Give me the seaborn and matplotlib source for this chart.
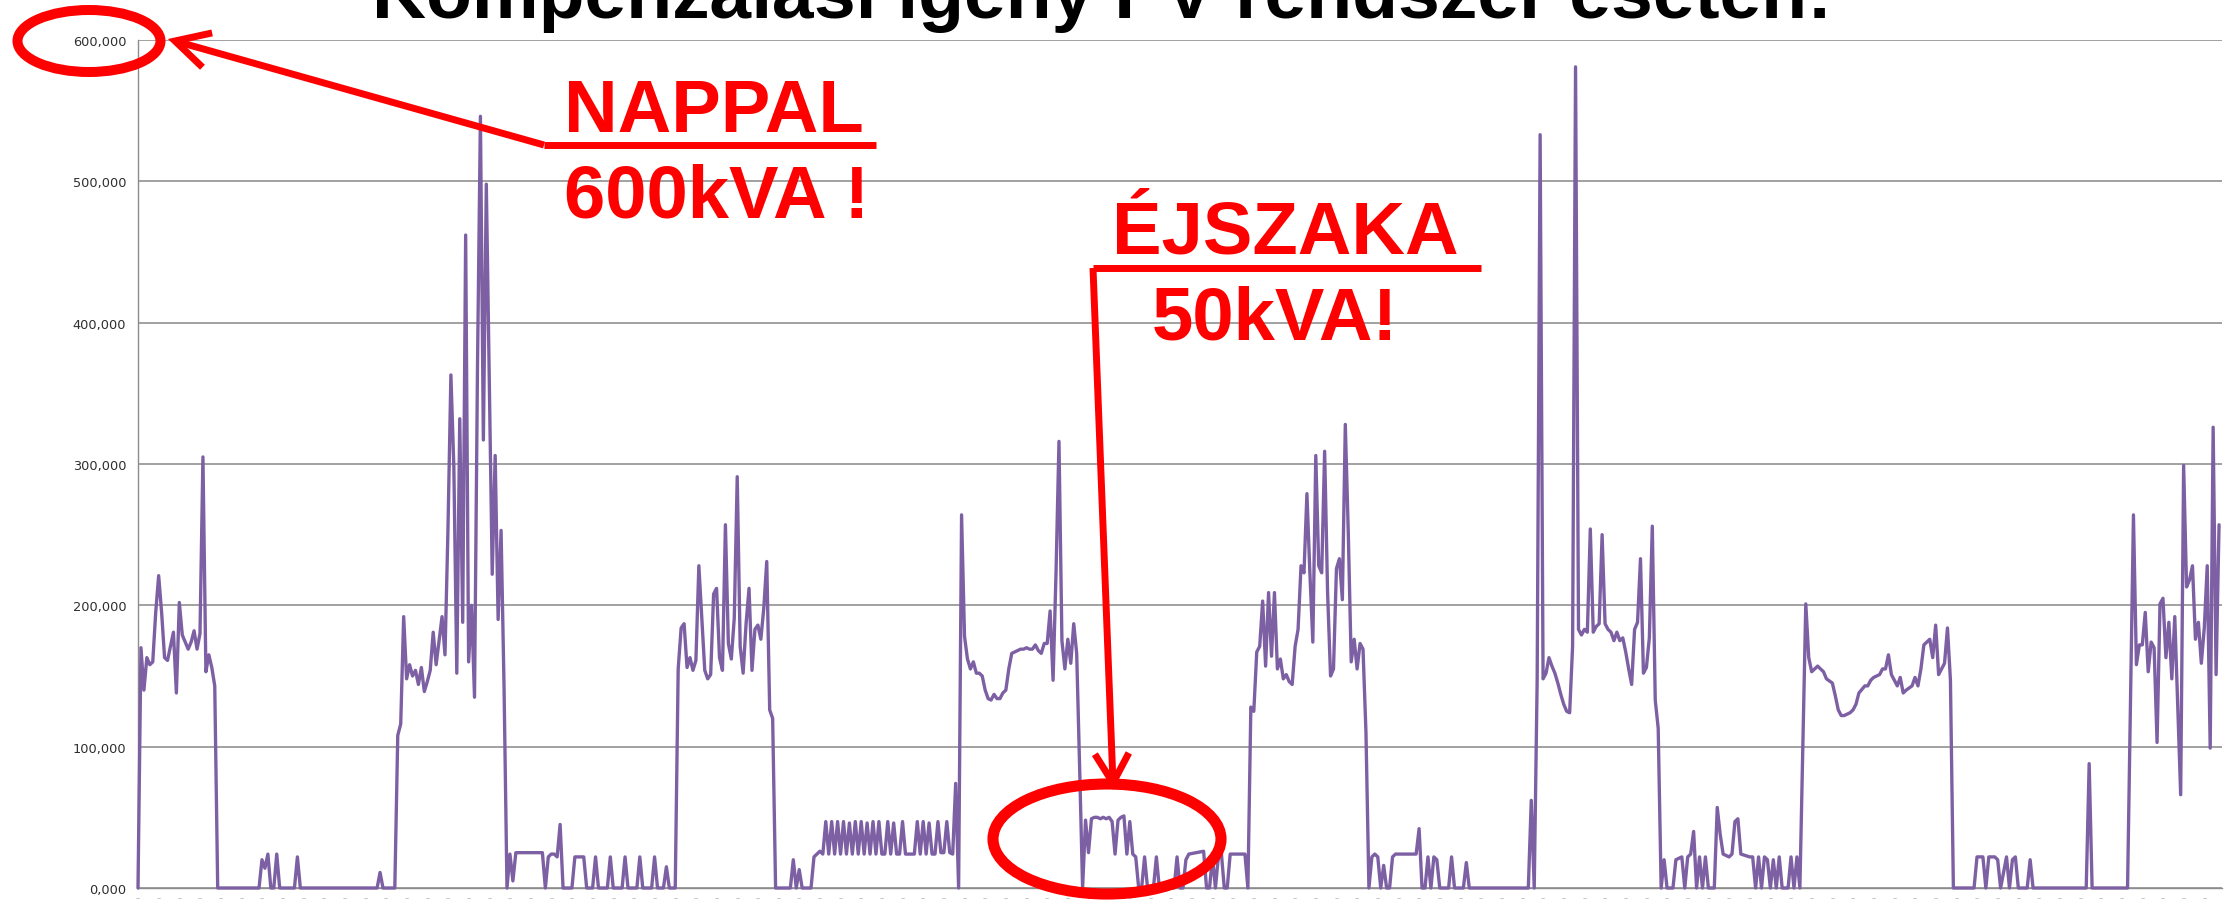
import numpy as np
import pandas as pd
import matplotlib
matplotlib.use("Agg")
import matplotlib.pyplot as plt
from matplotlib.patches import Ellipse
from matplotlib.ticker import FixedLocator, MultipleLocator, FuncFormatter
import seaborn as sns

# Reactive compensation demand, 15-minute samples: (step, kVA)
day1 = [(0, 0), (1, 170), (2, 140), (3, 163), (4, 158), (5, 160), (6, 195), (7, 221), (8, 195),
        (9, 163), (10, 161), (11, 171), (12, 181), (13, 138), (14, 202), (15, 179), (16, 174),
        (17, 169), (18, 174), (19, 182), (20, 169), (21, 180), (22, 305), (23, 153), (24, 165),
        (25, 156), (26, 143), (27, 0)]
night1 = [(41, 0), (42, 20), (43, 14), (44, 24), (45, 0), (46, 0), (47, 24), (48, 0), (53, 0),
          (54, 22), (55, 0), (81, 0), (82, 11), (83, 0), (87, 0)]
day2 = [(88, 108), (89, 116), (90, 192), (91, 148), (92, 158), (93, 150), (94, 154), (95, 144),
        (96, 156), (97, 139), (98, 146), (99, 154), (100, 181), (101, 158), (102, 175), (103, 192),
        (104, 165), (105, 253), (106, 363), (107, 298), (108, 152), (109, 332), (110, 188),
        (111, 462), (112, 160), (113, 200), (114, 135), (115, 367), (116, 546), (117, 317),
        (118, 498), (119, 360), (120, 222), (121, 306), (122, 190), (123, 253), (124, 143), (125, 0)]
night2 = [(126, 24), (127, 5), (128, 25), (137, 25), (138, 0), (139, 22), (140, 24), (141, 24),
          (142, 22), (143, 45), (144, 0), (147, 0), (148, 22), (151, 22), (152, 0), (154, 0),
          (155, 22), (156, 0), (159, 0), (160, 22), (161, 0), (164, 0), (165, 22), (166, 0),
          (169, 0), (170, 22), (171, 0), (174, 0), (175, 22), (176, 0), (178, 0), (179, 15), (180, 0)]
day3 = [(182, 0), (183, 155), (184, 184), (185, 187), (186, 156), (187, 163), (188, 154), (189, 161),
        (190, 228), (191, 191), (192, 154), (193, 148), (194, 151), (195, 208), (196, 212),
        (197, 163), (198, 154), (199, 257), (200, 173), (201, 162), (202, 191), (203, 291),
        (204, 171), (205, 152), (206, 187), (207, 212), (208, 154), (209, 183), (210, 186),
        (211, 176), (212, 198), (213, 231), (214, 126), (215, 120), (216, 0)]
night3 = [(221, 0), (222, 20), (223, 0), (224, 13), (225, 0), (228, 0), (229, 22), (230, 24), (231, 26),
          (232, 24), (233, 47), (234, 24), (235, 47), (236, 24), (237, 47), (238, 24), (239, 47),
          (240, 24), (241, 46), (242, 24), (243, 47), (244, 24), (245, 47), (246, 24), (247, 46),
          (248, 24), (249, 47), (250, 24), (251, 47), (252, 24), (253, 24), (254, 47), (255, 24),
          (256, 46), (257, 24), (258, 24), (259, 47), (260, 24), (263, 24), (264, 47), (265, 24),
          (266, 47), (267, 24), (268, 46), (269, 24), (270, 24), (271, 47), (272, 25), (273, 25),
          (274, 47), (275, 25), (276, 24), (277, 74), (278, 0)]
day4 = [(279, 264), (280, 178), (281, 162), (282, 155), (283, 160), (284, 152), (285, 152), (286, 150),
        (287, 140), (288, 134), (289, 133), (290, 137), (291, 134), (292, 134), (293, 138),
        (294, 140), (295, 155), (296, 166), (297, 167), (298, 168), (299, 169), (300, 169),
        (301, 170), (302, 169), (303, 169), (304, 172), (305, 168), (306, 166), (307, 173),
        (308, 173), (309, 196), (310, 147), (311, 223), (312, 316), (313, 175), (314, 155),
        (315, 176), (316, 159), (317, 187), (318, 166), (319, 85), (320, 0)]
night4 = [(321, 48), (322, 25), (323, 49), (324, 50), (325, 50), (326, 49), (327, 50), (328, 49),
          (329, 50), (330, 47), (331, 24), (332, 48), (333, 50), (334, 51), (335, 24), (336, 47),
          (337, 24), (338, 22), (339, 0), (340, 0), (341, 22), (342, 0), (344, 0), (345, 22),
          (346, 0), (351, 0), (352, 22), (353, 0), (354, 0), (355, 20), (356, 24), (361, 26),
          (362, 0), (363, 0), (364, 22), (365, 0), (366, 22), (367, 25), (368, 0), (369, 0),
          (370, 24), (375, 24), (376, 0)]
day5 = [(377, 128), (378, 125), (379, 167), (380, 171), (381, 203), (382, 157), (383, 209), (384, 164),
        (385, 209), (386, 155), (387, 162), (388, 148), (389, 151), (390, 146), (391, 144),
        (392, 171), (393, 183), (394, 228), (395, 223), (396, 279), (397, 223), (398, 174),
        (399, 306), (400, 228), (401, 223), (402, 309), (403, 209), (404, 150), (405, 155),
        (406, 226), (407, 233), (408, 204), (409, 328), (410, 252), (411, 160), (412, 176),
        (413, 155), (414, 173), (415, 169), (416, 110), (417, 0)]
night5 = [(418, 22), (419, 24), (420, 22), (421, 0), (422, 16), (423, 0), (424, 0), (425, 22), (426, 24),
          (433, 24), (434, 42), (435, 0), (436, 0), (437, 22), (438, 0), (439, 22), (440, 20),
          (441, 0), (444, 0), (445, 22), (446, 0), (449, 0), (450, 18), (451, 0), (471, 0),
          (472, 62), (473, 0)]
day6 = [(474, 148), (475, 533), (476, 148), (477, 152), (478, 163), (479, 157), (480, 152), (481, 145),
        (482, 137), (483, 130), (484, 125), (485, 124), (486, 171), (487, 581), (488, 183),
        (489, 179), (490, 183), (491, 181), (492, 254), (493, 181), (494, 185), (495, 187),
        (496, 250), (497, 187), (498, 183), (499, 181), (500, 175), (501, 181), (502, 175),
        (503, 177), (504, 167), (505, 155), (506, 144), (507, 183), (508, 188), (509, 233),
        (510, 152), (511, 156), (512, 177), (513, 256), (514, 133), (515, 113), (516, 0)]
night6 = [(517, 20), (518, 0), (520, 0), (521, 20), (523, 22), (524, 0), (525, 22), (526, 24), (527, 40),
          (528, 0), (529, 22), (530, 0), (531, 22), (532, 0), (534, 0), (535, 57), (536, 38),
          (537, 24), (539, 22), (540, 24), (541, 47), (542, 49), (543, 24), (546, 22), (547, 22),
          (548, 0), (549, 22), (550, 0), (551, 22), (552, 20), (553, 0), (554, 20), (555, 0),
          (556, 22), (557, 0), (559, 0), (560, 22), (561, 0), (562, 22), (563, 0)]
day7 = [(565, 201), (566, 163), (567, 153), (569, 157), (570, 155), (571, 153), (572, 148), (574, 145),
        (575, 136), (576, 126), (577, 122), (578, 122), (580, 124), (581, 126), (582, 130),
        (583, 138), (585, 143), (586, 143), (587, 147), (588, 149), (590, 151), (591, 155),
        (592, 155), (593, 165), (594, 151), (596, 143), (597, 149), (598, 138), (599, 140),
        (601, 143), (602, 149), (603, 143), (604, 155), (605, 172), (607, 176), (608, 163),
        (609, 186), (610, 151), (612, 159), (613, 184), (614, 147), (615, 0)]
night7 = [(622, 0), (623, 22), (625, 22), (626, 0), (627, 22), (629, 22), (630, 20), (631, 0), (633, 22),
          (634, 0), (635, 20), (636, 22), (637, 0), (640, 0), (641, 20), (642, 0), (660, 0),
          (661, 88), (662, 0), (674, 0)]
day8 = [(676, 264), (677, 158), (678, 172), (679, 172), (680, 195), (681, 153), (682, 174), (683, 170),
        (684, 103), (685, 201), (686, 205), (687, 163), (688, 188), (689, 148), (690, 192),
        (691, 130), (692, 66), (693, 299), (694, 213), (695, 218), (696, 228), (697, 176),
        (698, 188), (699, 159), (700, 184), (701, 228), (702, 99), (703, 326), (704, 151), (705, 257)]

y_ticks = [0, 100, 200, 300, 400, 500, 600]
title_text = "Kompenzálási igény PV rendszer esetén:"
day_label, day_value = "NAPPAL", "600kVA !"
night_label, night_value = "ÉJSZAKA", "50kVA!"

segments = [day1, night1, day2, night2, day3, night3, day4, night4,
            day5, night5, day6, night6, day7, night7, day8]
df = pd.DataFrame([p for seg in segments for p in seg], columns=["step", "kva"])

sns.set_style("white")
plt.rcParams["font.family"] = ["DejaVu Sans"]

W, H = 2226, 920
fig = plt.figure(figsize=(W / 100, H / 100), dpi=100)
fig.patch.set_facecolor("white")

# plot area in pixel terms: x 138..2222, y (top) 41..889
ax = fig.add_axes([138 / W, (H - 889) / H, (2222 - 138) / W, (889 - 41) / H])
sns.lineplot(data=df, x="step", y="kva", ax=ax, color="#7d60a3", linewidth=2.4,
             estimator=None, sort=False, legend=False)
for ln in ax.lines:
    ln.set_clip_on(False)
    ln.set_solid_joinstyle("round")
    ln.set_zorder(3)

grid_c = "#8c8c8c"
ax.set_xlim(0, 706)
ax.set_ylim(0, 600)
ax.set_xlabel("")
ax.set_ylabel("")
ax.yaxis.set_major_locator(FixedLocator(y_ticks))
ax.yaxis.set_major_formatter(FuncFormatter(lambda v, _: f"{v:.3f}".replace(".", ",")))
ax.yaxis.grid(True, color=grid_c, linewidth=1.15)
ax.xaxis.grid(False)
ax.set_axisbelow(True)
for side in ("top", "right"):
    ax.spines[side].set_visible(False)
for side in ("left", "bottom"):
    ax.spines[side].set_color(grid_c)
    ax.spines[side].set_linewidth(1.0)

ax.xaxis.set_major_locator(MultipleLocator(7))
ax.xaxis.set_minor_locator(MultipleLocator(1))
ax.xaxis.set_major_formatter(FuncFormatter(lambda v, _: "–"))
ax.tick_params(axis="x", which="both", direction="out", length=2.4, width=0.9,
               color=grid_c, labelsize=6, labelcolor="#b5b5b5", pad=1.0)
ax.tick_params(axis="y", which="major", direction="out", length=2.5, width=1.0,
               color=grid_c, labelsize=9.3, labelcolor="#2e2e2e", pad=6.0)

# overlay in pixel coordinates (origin top-left) for title and callouts
ov = fig.add_axes([0, 0, 1, 1], zorder=10)
ov.set_xlim(0, W)
ov.set_ylim(H, 0)
ov.axis("off")
ov.patch.set_alpha(0)

bold = dict(family=["Liberation Sans", "DejaVu Sans"], fontweight="bold")
ov.text(1102, 18, title_text, ha="center", va="baseline", fontsize=54, color="black", **bold)

red = "#ff0000"
ov.text(714, 132, day_label, ha="center", va="baseline", fontsize=53.5, color=red, **bold)
ov.text(717, 217, day_value, ha="center", va="baseline", fontsize=53.5, color=red, **bold)
ov.text(1285, 254, night_label, ha="center", va="baseline", fontsize=53.5, color=red, **bold)
ov.text(1275, 340, night_value, ha="center", va="baseline", fontsize=53.5, color=red, **bold)


def arrow(tail, tip, arm, spread, lw):
    tail = np.asarray(tail, float)
    tip = np.asarray(tip, float)
    ov.plot([tail[0], tip[0]], [tail[1], tip[1]], color=red, lw=lw, solid_capstyle="butt")
    u = (tail - tip) / np.hypot(*(tail - tip))
    a = np.deg2rad(spread)
    pts = []
    for s in (1, -1):
        c, sn = np.cos(s * a), np.sin(s * a)
        pts.append(tip + arm * np.array([c * u[0] - sn * u[1], sn * u[0] + c * u[1]]))
    ov.plot([pts[0][0], tip[0], pts[1][0]], [pts[0][1], tip[1], pts[1][1]], color=red, lw=lw,
            solid_joinstyle="miter", solid_capstyle="butt")


# day callout: underline, arrow to the top gridline label, ring round the label
ov.plot([544, 876], [146, 146], color=red, lw=5, solid_capstyle="butt")
arrow((544, 146), (175, 42), 38, 28, 5)
ov.add_patch(Ellipse((89, 42), 143, 62, fill=False, edgecolor=red, lw=7.2))

# night callout: underline, arrow down to the night-time band, ring round it
ov.plot([1093, 1481], [269, 269], color=red, lw=5, solid_capstyle="butt")
arrow((1093, 269), (1113, 784), 34, 30, 5)
ov.add_patch(Ellipse((1107, 840), 228, 110, fill=False, edgecolor=red, lw=8))

fig.savefig("out.png", dpi=100, facecolor="white")
